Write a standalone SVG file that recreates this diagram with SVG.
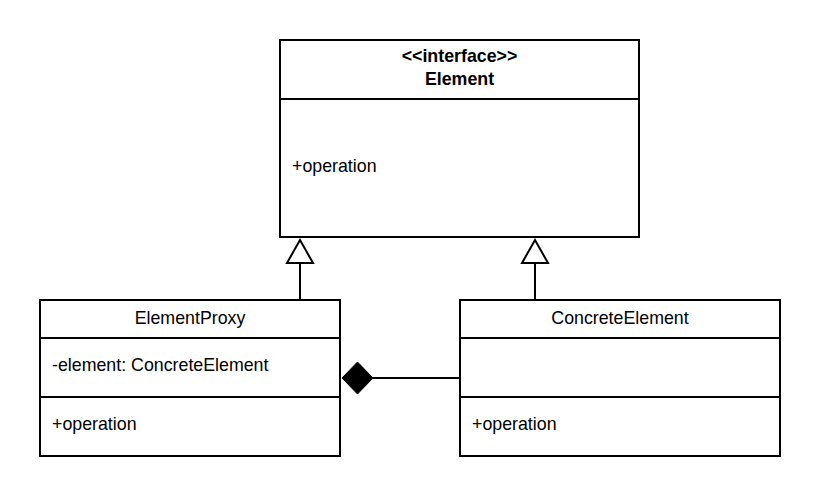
<svg xmlns="http://www.w3.org/2000/svg" width="820" height="496" viewBox="0 0 820 496">
<style>
.box{fill:#fff;stroke:#000;stroke-width:2}
.ln{stroke:#000;stroke-width:2;fill:none}
text{font-family:"Liberation Sans",Arial,sans-serif;font-size:17.8px;fill:#000}
.b{font-weight:bold}
.c{text-anchor:middle}
</style>
<rect width="820" height="496" fill="#fff"/>
<g id="connectors">
<line class="ln" x1="300" y1="263" x2="300" y2="300"/>
<polygon points="300,240 313,263 287,263" fill="#fff" stroke="#000" stroke-width="2"/>
<line class="ln" x1="535" y1="263" x2="535" y2="300"/>
<polygon points="535,240 548,263 522,263" fill="#fff" stroke="#000" stroke-width="2"/>
<line class="ln" x1="373" y1="378" x2="460" y2="378"/>
<polygon points="342,378 357.5,362 373,378 357.5,394" fill="#000" stroke="#000" stroke-width="1"/>
</g>
<g id="Element">
<rect class="box" x="280" y="40" width="359" height="197"/>
<line class="ln" x1="280" y1="99" x2="639" y2="99"/>
<text class="b c" x="459.5" y="62">&lt;&lt;interface&gt;&gt;</text>
<text class="b c" x="459.5" y="85">Element</text>
<text x="292" y="172">+operation</text>
</g>
<g id="ElementProxy">
<rect class="box" x="40" y="300" width="300" height="156"/>
<line class="ln" x1="40" y1="338" x2="340" y2="338"/>
<line class="ln" x1="40" y1="397" x2="340" y2="397"/>
<text class="c" x="190" y="324">ElementProxy</text>
<text x="52" y="371">-element: ConcreteElement</text>
<text x="52" y="430">+operation</text>
</g>
<g id="ConcreteElement">
<rect class="box" x="460" y="300" width="320" height="156"/>
<line class="ln" x1="460" y1="338" x2="780" y2="338"/>
<line class="ln" x1="460" y1="397" x2="780" y2="397"/>
<text class="c" x="620" y="324">ConcreteElement</text>
<text x="472" y="430">+operation</text>
</g>
</svg>
